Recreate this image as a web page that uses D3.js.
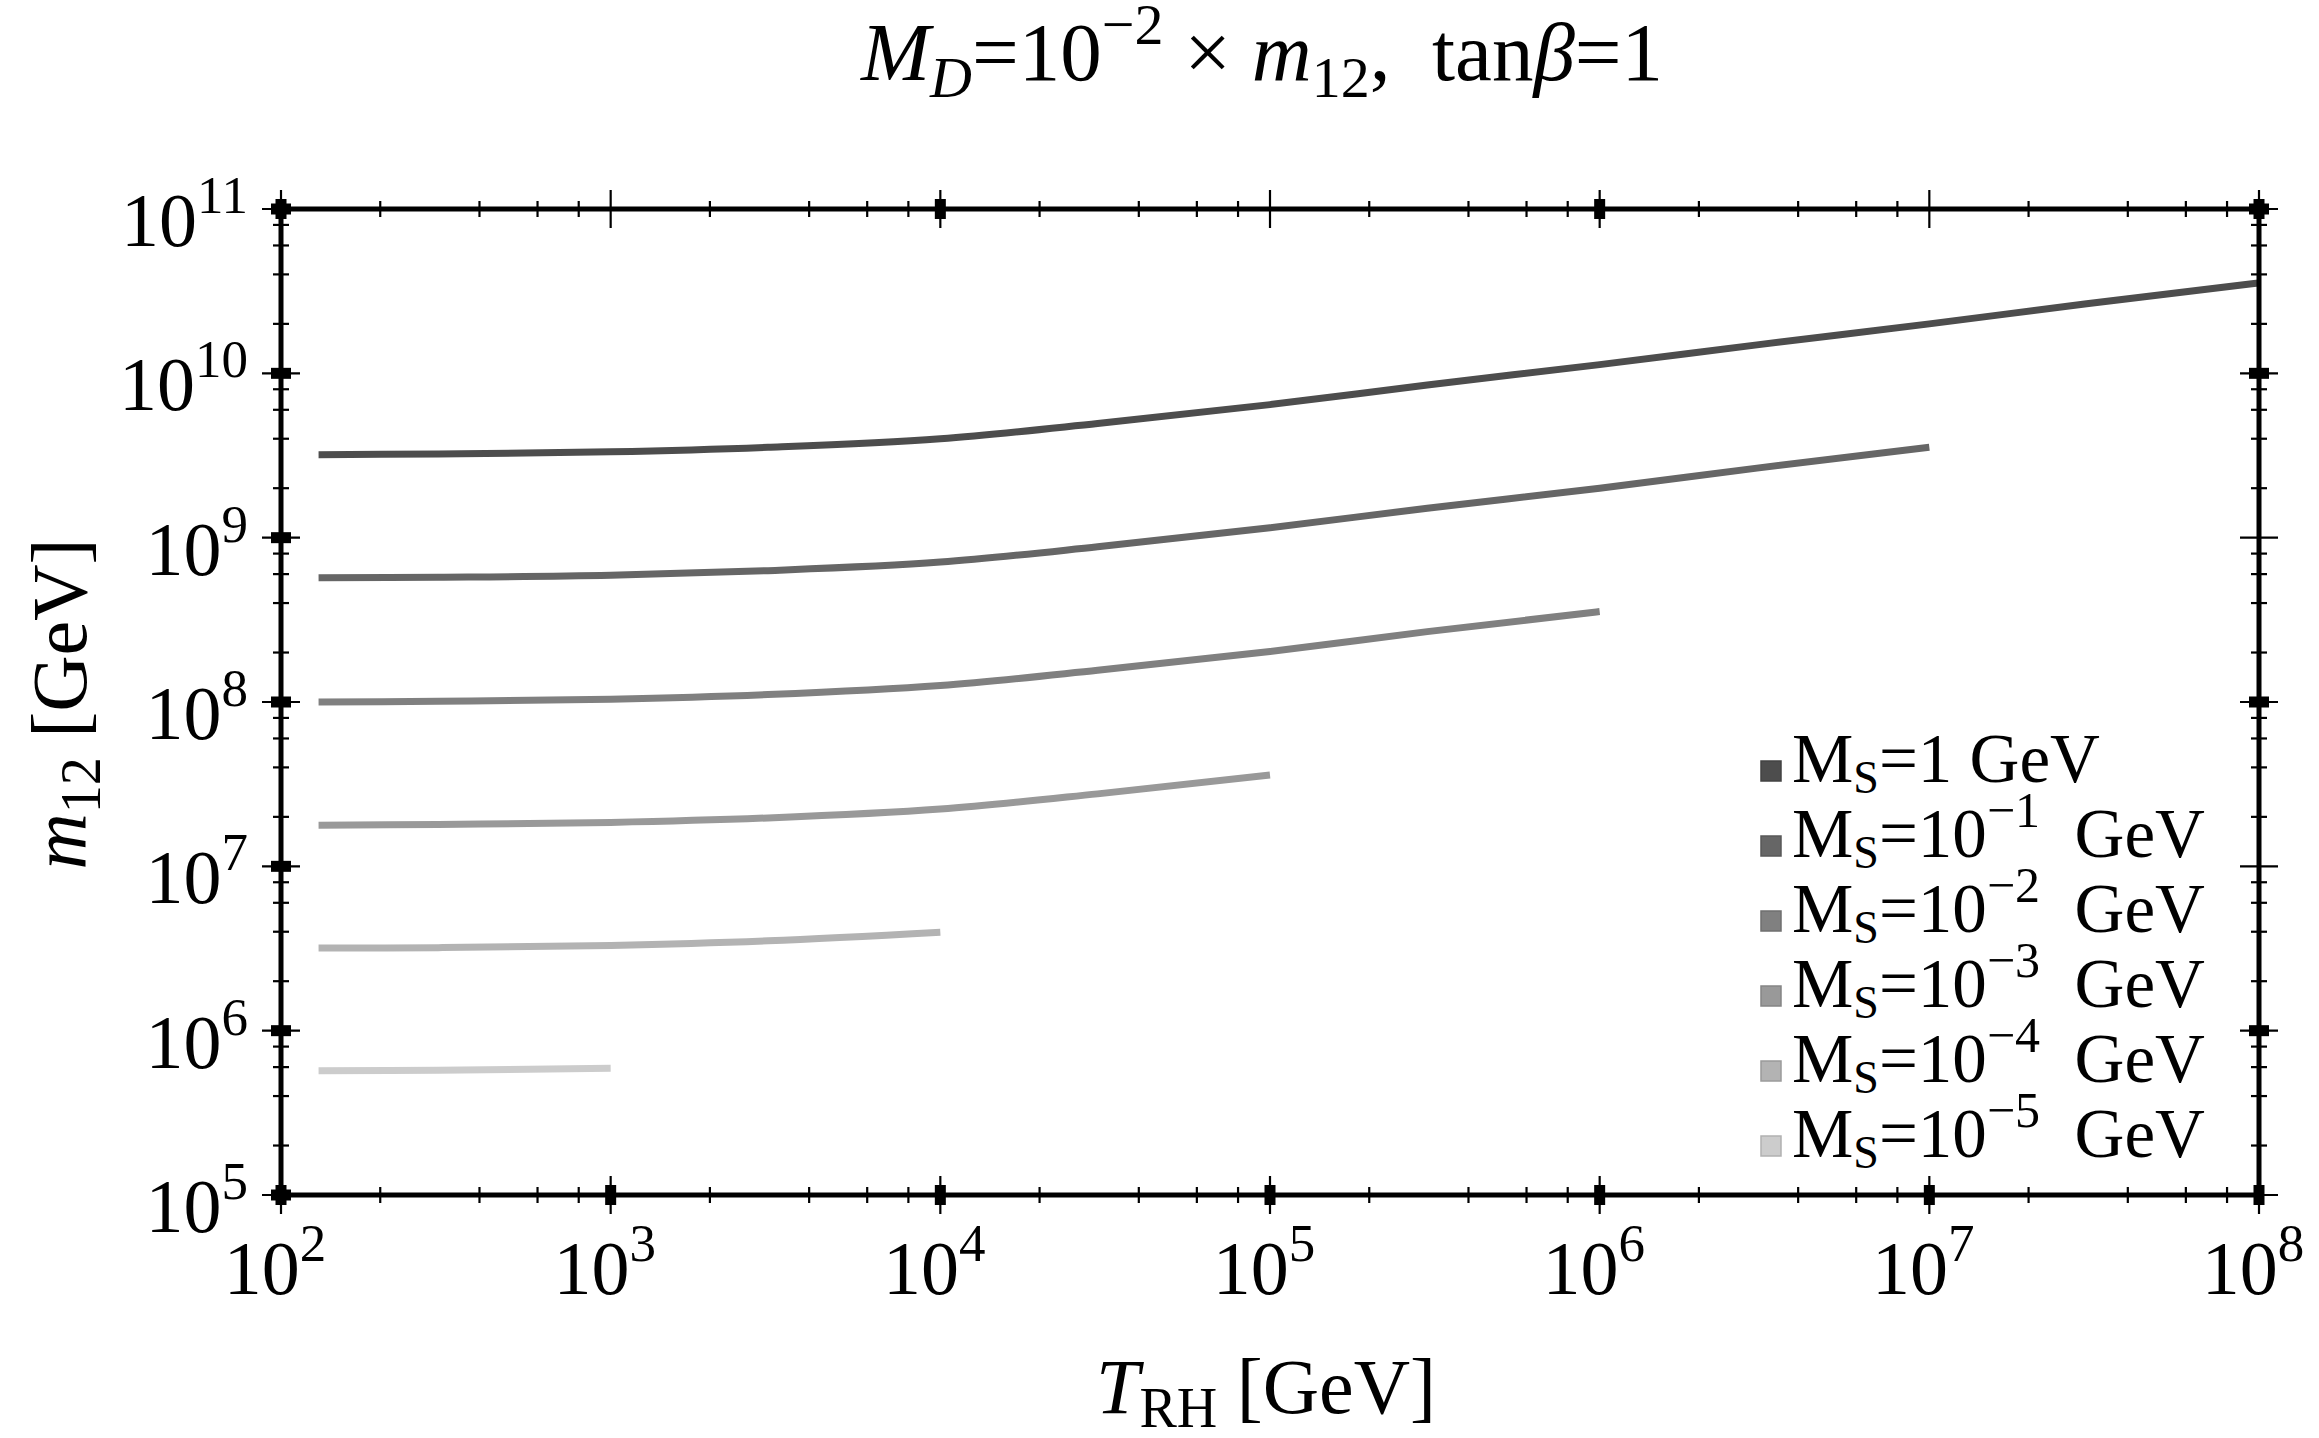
<!DOCTYPE html>
<html><head><meta charset="utf-8">
<script src="https://cdn.jsdelivr.net/npm/d3@7"></script>
<style>
html,body{margin:0;padding:0;background:#fff;}
text{font-family:"Liberation Serif","Times New Roman",serif;fill:#000;}
</style></head>
<body>
<svg id="chart" width="2319" height="1438"></svg>
<script>
// ---- data ----
const trh = [130, 300, 1e3, 3e3, 1e4, 3e4, 1e5, 3e5, 1e6, 3e6, 1e7, 3e7, 1e8];
const mS1 = [3.2e9, 3.23e9, 3.33e9, 3.55e9, 4.0e9, 4.95e9, 6.45e9, 8.5e9, 1.13e10, 1.49e10, 2.0e10, 2.65e10, 3.55e10];
const mS2 = [5.7e8, 5.75e8, 5.9e8, 6.3e8, 7.1e8, 8.8e8, 1.15e9, 1.51e9, 2.0e9, 2.65e9, 3.55e9];
const mS3 = [1.0e8, 1.01e8, 1.04e8, 1.11e8, 1.26e8, 1.56e8, 2.03e8, 2.68e8, 3.55e8];
const mS4 = [1.78e7, 1.8e7, 1.85e7, 1.97e7, 2.23e7, 2.76e7, 3.6e7];
const mS5 = [3.18e6, 3.2e6, 3.3e6, 3.52e6, 3.97e6];
const mS6 = [5.7e5, 5.75e5, 5.9e5];
const seriesValues = [mS1, mS2, mS3, mS4, mS5, mS6];
const seriesExp = [null, "\u22121", "\u22122", "\u22123", "\u22124", "\u22125"];
const seriesColors = ["#4d4d4d", "#666666", "#808080", "#999999", "#b3b3b3", "#cccccc"];
const xTickExps = [2, 3, 4, 5, 6, 7, 8];
const yTickExps = [5, 6, 7, 8, 9, 10, 11];

// ---- layout ----
const svg = d3.select("#chart");
const L = 281, R = 2259, T = 209, B = 1195;
const x = d3.scaleLog().domain([1e2, 1e8]).range([L, R]);
const y = d3.scaleLog().domain([1e5, 1e11]).range([B, T]);

// curves
const line = d3.line().x(d => x(d[0])).y(d => y(d[1])).curve(d3.curveMonotoneX);
const gC = svg.append("g");
seriesValues.forEach((vals, i) => {
  const pts = vals.map((v, j) => [trh[j], v]);
  gC.append("path").attr("d", line(pts)).attr("fill", "none")
    .attr("stroke", seriesColors[i]).attr("stroke-width", 7);
});

// frame
const gF = svg.append("g");
gF.append("rect").attr("x", L).attr("y", T).attr("width", R - L).attr("height", B - T)
  .attr("fill", "none").attr("stroke", "#000").attr("stroke-width", 5);

// minor ticks
const minorX = [], minorY = [];
for (let e = 2; e < 8; e++) [2, 4, 6, 8].forEach(m => minorX.push(m * Math.pow(10, e)));
for (let e = 5; e < 11; e++) [2, 4, 6, 8].forEach(m => minorY.push(m * Math.pow(10, e)));
const tk = gF.append("g").attr("stroke", "#000").attr("stroke-width", 2.2);
minorX.forEach(v => {
  [B, T].forEach(yy => tk.append("line").attr("x1", x(v)).attr("x2", x(v)).attr("y1", yy - 8).attr("y2", yy + 8));
});
minorY.forEach(v => {
  [L, R].forEach(xx => tk.append("line").attr("y1", y(v)).attr("y2", y(v)).attr("x1", xx - 8).attr("x2", xx + 8));
});
// major thin ticks
xTickExps.forEach(e => {
  const v = Math.pow(10, e);
  [B, T].forEach(yy => tk.append("line").attr("x1", x(v)).attr("x2", x(v)).attr("y1", yy - 19).attr("y2", yy + 19));
});
yTickExps.forEach(e => {
  const v = Math.pow(10, e);
  [L, R].forEach(xx => tk.append("line").attr("y1", y(v)).attr("y2", y(v)).attr("x1", xx - 19).attr("x2", xx + 19));
});
// major square marks
function sqX(v, yy) { gF.append("rect").attr("x", x(v) - 5.5).attr("y", yy - 10).attr("width", 11).attr("height", 20).attr("fill", "#000"); }
function sqY(v, xx) { gF.append("rect").attr("x", xx - 10).attr("y", y(v) - 5.5).attr("width", 20).attr("height", 11).attr("fill", "#000"); }
xTickExps.forEach(e => { sqX(Math.pow(10, e), B); if (e % 2 === 0) sqX(Math.pow(10, e), T); });
yTickExps.forEach(e => { sqY(Math.pow(10, e), L); if (e % 2 === 0 || e === 11) sqY(Math.pow(10, e), R); });

// tick labels
const FS = 76, SUP = 53;
xTickExps.forEach(e => {
  const t = svg.append("text").attr("x", x(Math.pow(10, e)) - 6).attr("y", B + 99)
    .attr("text-anchor", "middle").attr("font-size", FS);
  t.append("tspan").text("10");
  t.append("tspan").attr("font-size", SUP).attr("dy", -33).text(e);
});
yTickExps.forEach(e => {
  const t = svg.append("text").attr("x", 248).attr("y", y(Math.pow(10, e)) + 37)
    .attr("text-anchor", "end").attr("font-size", FS);
  t.append("tspan").text("10");
  t.append("tspan").attr("font-size", SUP).attr("dy", -33).text(e);
});

// axis labels
const xl = svg.append("text").attr("x", 1266).attr("y", 1413).attr("text-anchor", "middle").attr("font-size", 78);
xl.append("tspan").attr("font-style", "italic").text("T");
xl.append("tspan").attr("font-size", 56).attr("dy", 14).text("RH");
xl.append("tspan").attr("dy", -14).text(" [GeV]");

const yl = svg.append("text").attr("transform", "translate(86,704) rotate(-90)").attr("text-anchor", "middle").attr("font-size", 78);
yl.append("tspan").attr("font-style", "italic").text("m");
yl.append("tspan").attr("font-size", 56).attr("dy", 14).text("12");
yl.append("tspan").attr("dy", -14).text(" [GeV]");

// title
const tt = svg.append("text").attr("x", 1262).attr("y", 80).attr("text-anchor", "middle").attr("font-size", 83);
tt.append("tspan").attr("font-style", "italic").text("M");
tt.append("tspan").attr("font-style", "italic").attr("font-size", 58).attr("dy", 17).text("D");
tt.append("tspan").attr("dy", -17).text("=10");
tt.append("tspan").attr("font-size", 58).attr("dy", -36).text("\u22122");
tt.append("tspan").attr("dy", 36).text(" \u00d7 ");
tt.append("tspan").attr("font-style", "italic").text("m");
tt.append("tspan").attr("font-size", 58).attr("dy", 17).text("12");
tt.append("tspan").attr("dy", -17).text(",\u2002tan");
tt.append("tspan").attr("font-style", "italic").text("\u03b2");
tt.append("tspan").text("=1");

// legend
const lg = svg.append("g");
seriesValues.forEach((_, i) => {
  const by = 782 + i * 75;
  lg.append("rect").attr("x", 1761).attr("y", by - 21).attr("width", 20).attr("height", 20)
    .attr("fill", seriesColors[i]).attr("stroke", d3.color(seriesColors[i]).darker(0.4)).attr("stroke-width", 1.5);
  const t = lg.append("text").attr("x", 1792).attr("y", by).attr("font-size", 69);
  t.append("tspan").text("M");
  t.append("tspan").attr("font-size", 46).attr("dy", 11).text("S");
  if (seriesExp[i] === null) {
    t.append("tspan").attr("dy", -11).text("=1 GeV");
  } else {
    t.append("tspan").attr("dy", -11).text("=10");
    t.append("tspan").attr("font-size", 50).attr("dy", -30).text(seriesExp[i]);
    t.append("tspan").attr("dy", 30).text("\u2002GeV");
  }
});
</script>
</body></html>
